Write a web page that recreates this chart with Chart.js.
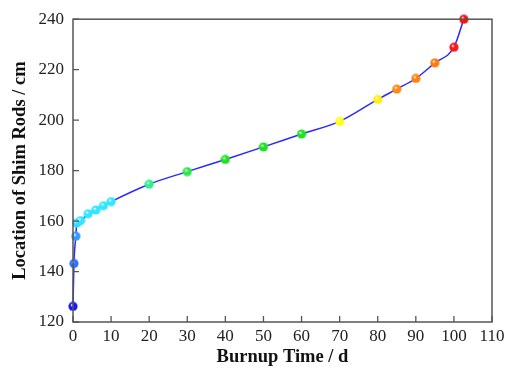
<!DOCTYPE html>
<html>
<head>
<meta charset="utf-8">
<script src="https://cdn.jsdelivr.net/npm/chart.js@4/dist/chart.umd.min.js"></script>
<style>
  html, body { margin: 0; padding: 0; background: #fff; }
  canvas { display: block; }
</style>
</head>
<body>
<canvas id="shimChart" width="509" height="368"></canvas>
<script>
// burnup time (d) and shim rod position (cm)
const burnupDays = [0, 0.25, 0.75, 1, 2, 4, 6, 8, 10, 20, 30, 40, 50, 60, 70, 80, 85, 90, 95, 100, 102.6];
const rodPosition = [126.2, 143.2, 154, 159.2, 160.2, 162.9, 164.4, 166.1, 167.7, 174.6, 179.6, 184.4, 189.4, 194.5, 199.5, 208.2, 212.3, 216.5, 222.7, 228.9, 240];
const pointColors = ['#1515ff', '#2f70ff', '#3399ff', '#33dcff', '#33e2ff', '#33e6ff', '#33e6ff', '#33e6ff', '#33e6ff',
  '#2ff08a', '#2ee84a', '#22e022', '#22e022', '#22e022', '#ffff10', '#ffef10', '#ff8a10', '#ff8010', '#ff7a10', '#ff1515', '#ff1010'];
const xTicks = [0, 10, 20, 30, 40, 50, 60, 70, 80, 90, 100, 110];
const yTicks = [120, 140, 160, 180, 200, 220, 240];

// little shaded spheres for the markers
function ball(color) {
  const r = 4.6;
  const c = document.createElement('canvas');
  c.width = c.height = 10;
  const g = c.getContext('2d');
  const grad = g.createRadialGradient(3.6, 3.4, 0.3, 5, 5, r);
  grad.addColorStop(0, '#ffffff');
  grad.addColorStop(0.35, color);
  grad.addColorStop(1, color);
  g.fillStyle = grad;
  g.beginPath();
  g.arc(5, 5, r, 0, Math.PI * 2);
  g.fill();
  return c;
}
const pointImages = pointColors.map(ball);

const framePlugin = {
  id: 'frame',
  afterDraw(chart) {
    const ctx = chart.ctx;
    const a = chart.chartArea;
    const xs = chart.scales.x, ys = chart.scales.y;
    ctx.save();
    ctx.strokeStyle = '#555';
    ctx.lineWidth = 1.3;
    ctx.beginPath();
    xTicks.forEach(v => {
      const px = xs.getPixelForValue(v);
      ctx.moveTo(px, a.bottom);
      ctx.lineTo(px, a.bottom - 6);
    });
    yTicks.forEach(v => {
      const py = ys.getPixelForValue(v);
      ctx.moveTo(a.left, py);
      ctx.lineTo(a.left + 6, py);
    });
    ctx.stroke();
    ctx.lineWidth = 1.5;
    ctx.strokeRect(a.left, a.top, a.right - a.left, a.bottom - a.top);
    ctx.restore();
  }
};

const tickFont = { family: '"Liberation Serif", "Times New Roman", serif', size: 17 };
const titleFont = { family: '"Liberation Serif", "Times New Roman", serif', size: 18.5, weight: 'bold' };

new Chart(document.getElementById('shimChart').getContext('2d'), {
  type: 'line',
  data: {
    labels: burnupDays,
    datasets: [{
      data: burnupDays.map((d, i) => ({ x: d, y: rodPosition[i] })),
      borderColor: '#2a2aff',
      borderWidth: 1.5,
      cubicInterpolationMode: 'monotone',
      pointStyle: pointImages,
      pointRadius: 5,
      clip: false
    }]
  },
  options: {
    responsive: false,
    animation: false,
    layout: { padding: { top: 19, right: 17, left: 0, bottom: 0 } },
    plugins: { legend: { display: false }, tooltip: { enabled: false } },
    scales: {
      x: {
        type: 'linear',
        min: 0,
        max: 110,
        afterFit: s => { s.height = 46; },
        afterBuildTicks: s => { s.ticks = xTicks.map(v => ({ value: v })); },
        grid: { display: false, drawTicks: false },
        border: { display: false },
        ticks: { font: tickFont, color: '#222', padding: 4, maxRotation: 0 },
        title: { display: true, text: 'Burnup Time / d', font: titleFont, color: '#111', padding: { top: 0, bottom: 0 } }
      },
      y: {
        min: 120,
        max: 240,
        afterFit: s => { s.width = 73; },
        afterBuildTicks: s => { s.ticks = yTicks.map(v => ({ value: v })); },
        grid: { display: false, drawTicks: false },
        border: { display: false },
        ticks: { font: tickFont, color: '#222', padding: 9 },
        title: { display: true, text: 'Location of Shim Rods / cm', font: titleFont, color: '#111', padding: { top: 9, bottom: 0 } }
      }
    }
  },
  plugins: [framePlugin]
});
</script>
</body>
</html>
